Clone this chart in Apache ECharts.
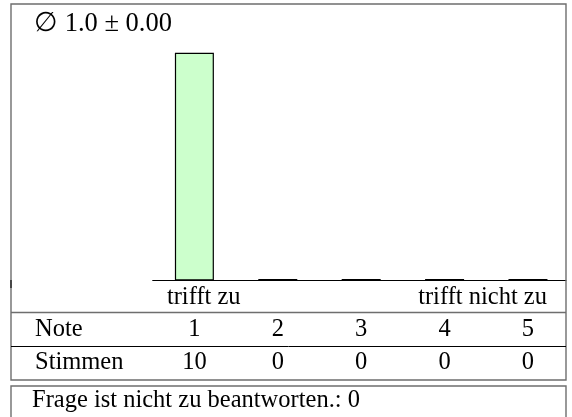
<!DOCTYPE html>
<html>
<head>
<meta charset="utf-8">
<script src="https://cdn.jsdelivr.net/npm/echarts@6/dist/echarts.min.js"></script>
<style>
html,body{margin:0;padding:0;background:#fff;}
#c{width:572px;height:417px;}
</style>
</head>
<body>
<div id="c"></div>
<script>
var notes = [1, 2, 3, 4, 5];
var votes = [10, 0, 0, 0, 0];
var scaleLabels = ['trifft zu', 'trifft nicht zu'];
var rowLabels = ['Note', 'Stimmen'];
var notAnswerableLabel = 'Frage ist nicht zu beantworten.';
var notAnswerable = 0;

var FONT = '"Liberation Serif", "DejaVu Serif", serif';
var FS = 24.5;

var total = votes.reduce(function(a, b){ return a + b; }, 0);
var mean = notes.reduce(function(s, n, i){ return s + n * votes[i]; }, 0) / total;
var variance = notes.reduce(function(s, n, i){ return s + votes[i] * (n - mean) * (n - mean); }, 0) / total;
var sd = Math.sqrt(variance);

var chart = echarts.init(document.getElementById('c'), null, {renderer: 'canvas'});
chart.setOption({
  animation: false,
  backgroundColor: '#fff',
  title: {
    text: '\u2205 ' + mean.toFixed(1) + ' \u00b1 ' + sd.toFixed(2),
    left: 29, top: 6,
    textStyle: {fontFamily: FONT, fontSize: 26.5, fontWeight: 'normal', color: '#000'}
  },
  grid: {left: 152.7, right: 6, top: 52.7, bottom: 136.5},
  xAxis: {
    type: 'value', min: 0.5, max: 5.456,
    axisLine: {show: true, onZero: false, lineStyle: {color: '#000', width: 1}},
    axisTick: {show: false}, axisLabel: {show: false}, splitLine: {show: false}
  },
  yAxis: {
    type: 'value', min: 0, max: 10, show: false
  },
  series: [{
    type: 'bar',
    barWidth: 39,
    barMinHeight: 1.5,
    data: notes.map(function(n, i){ return [n, votes[i]]; }),
    itemStyle: {color: '#ccffcc', borderColor: '#000', borderWidth: 1.2}
  }]
});

var px = notes.map(function(n){ return chart.convertToPixel({xAxisIndex: 0}, n); });
var textStyle = function(t, x, y, align){
  return {type: 'text', x: x, y: y, style: {text: t, font: 'normal ' + FS + 'px ' + FONT, fill: '#000', align: align, verticalAlign: 'middle'}, z: 10};
};
var gfx = [
  {type: 'rect', shape: {x: 11, y: 4, width: 555, height: 376}, style: {fill: 'none', stroke: '#6e6e6e', lineWidth: 1.4}, z: 5},
  {type: 'line', shape: {x1: 11, y1: 312.5, x2: 566, y2: 312.5}, style: {stroke: '#6e6e6e', lineWidth: 1.4}, z: 5},
  {type: 'line', shape: {x1: 11, y1: 346.5, x2: 566, y2: 346.5}, style: {stroke: '#000', lineWidth: 1}, z: 5},
  {type: 'line', shape: {x1: 11, y1: 280, x2: 11, y2: 288}, style: {stroke: '#333', lineWidth: 1.6}, z: 6},
  {type: 'rect', shape: {x: 11, y: 386, width: 555, height: 60}, style: {fill: 'none', stroke: '#6e6e6e', lineWidth: 1.4}, z: 5},
  textStyle(scaleLabels[0], px[0] - 27.5, 297.5, 'left'),
  textStyle(scaleLabels[1], px[px.length - 1] + 19, 297.5, 'right'),
  textStyle(rowLabels[0], 35, 329.5, 'left'),
  textStyle(rowLabels[1], 35, 363, 'left'),
  textStyle(notAnswerableLabel + ': ' + notAnswerable, 32, 401, 'left')
];
notes.forEach(function(n, i){
  gfx.push(textStyle(String(n), px[i], 329.5, 'center'));
  gfx.push(textStyle(String(votes[i]), px[i], 363, 'center'));
});
chart.setOption({graphic: gfx});
</script>
</body>
</html>
